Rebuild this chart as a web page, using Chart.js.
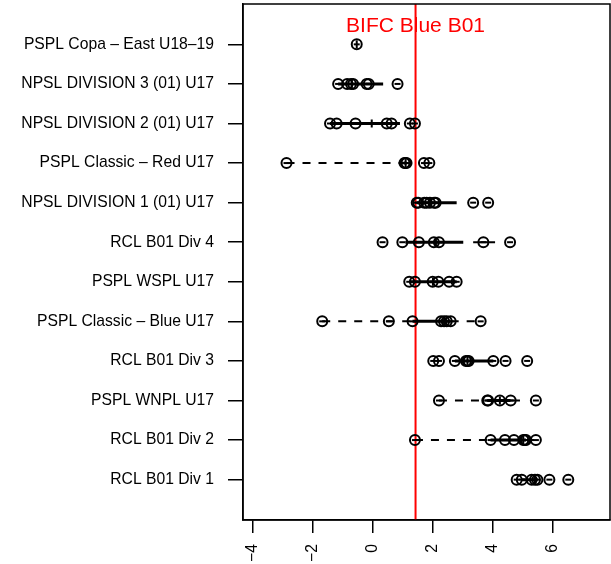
<!DOCTYPE html>
<html>
<head>
<meta charset="utf-8">
<script src="https://cdn.jsdelivr.net/npm/chart.js@4"></script>
<style>
  body { margin: 0; background: #fff; }
  canvas { display: block; }
</style>
</head>
<body>
<canvas id="chart" width="611" height="564"></canvas>
<script>
// Team scores vs. BIFC Blue B01 reference

const categories = [
    'PSPL Copa \u2013 East U18\u201319',
    'NPSL DIVISION 3 (01) U17',
    'NPSL DIVISION 2 (01) U17',
    'PSPL Classic \u2013 Red U17',
    'NPSL DIVISION 1 (01) U17',
    'RCL B01 Div 4',
    'PSPL WSPL U17',
    'PSPL Classic \u2013 Blue U17',
    'RCL B01 Div 3',
    'PSPL WNPL U17',
    'RCL B01 Div 2',
    'RCL B01 Div 1'
];

// individual points per category (top to bottom)
const scores = [
    [-0.54],
    [-1.16, -0.86, -0.73, -0.66, -0.21, -0.14, 0.82],
    [-1.43, -1.21, -0.58, 0.46, 0.62, 1.23, 1.40],
    [-2.88, 1.05, 1.08, 1.12, 1.70, 1.88],
    [1.46, 1.51, 1.71, 1.79, 1.90, 2.04, 2.09, 3.34, 3.84],
    [0.32, 0.98, 1.53, 2.03, 2.20, 3.68, 4.57],
    [1.21, 1.40, 1.99, 2.18, 2.54, 2.79],
    [-1.69, 0.53, 1.32, 2.27, 2.37, 2.46, 2.59, 3.59],
    [2.01, 2.20, 2.73, 3.10, 3.15, 3.19, 4.01, 4.42, 5.14],
    [2.20, 3.81, 3.84, 4.23, 4.59, 5.43],
    [1.40, 3.92, 4.40, 4.70, 5.01, 5.06, 5.10, 5.43],
    [4.79, 4.96, 5.29, 5.40, 5.48, 5.88, 6.51]
];

// box / whisker stats
const boxLow    = [-0.54, -1.16, -1.43, 1.02, 1.46, 1.08, 1.21, 1.32, 2.73, 3.81, 3.92, 4.96];
const boxHigh   = [-0.54, 0.34, 0.90, 1.12, 2.79, 3.01, 2.79, 2.59, 4.01, 4.59, 5.10, 5.48];
const medians   = [-0.54, -0.70, -0.04, 1.09, 1.90, 2.10, 2.00, 2.37, 3.15, 4.23, 5.01, 5.40];
const whiskLow  = [-0.54, -1.16, -1.43, -2.88, 1.46, 1.08, 1.21, -1.69, 2.73, 2.20, 1.40, 4.96];
const whiskHigh = [-0.54, 0.34, 0.90, 1.12, 2.79, 3.01, 2.79, 3.59, 4.01, 4.59, 5.43, 5.48];
// short solid bars next to some points: [row, from, to]
const extraBars = [[5, 3.34, 4.07], [9, 4.59, 4.90]];

const refValue = 1.42;
const refLabel = 'BIFC Blue B01';

const xTicks = [-4, -2, 0, 2, 4, 6];
const xTickLabels = ['\u22124', '\u22122', '0', '2', '4', '6'];
const xMin = -4.33, xMax = 7.9;

const n = categories.length;
const pos = i => n - i;   // top row gets the highest position

// build segment lists (null y breaks the line)
const boxSeg = [];
const whiskSeg = [];
const points = [];
const medPts = [];
categories.forEach((c, i) => {
    const y = pos(i);
    if (boxHigh[i] > boxLow[i]) {
        boxSeg.push({ x: boxLow[i], y: y }, { x: boxHigh[i], y: y }, { x: boxHigh[i], y: null });
    }
    if (whiskLow[i] < boxLow[i]) {
        whiskSeg.push({ x: whiskLow[i], y: y }, { x: boxLow[i], y: y }, { x: boxLow[i], y: null });
    }
    if (whiskHigh[i] > boxHigh[i]) {
        whiskSeg.push({ x: boxHigh[i], y: y }, { x: whiskHigh[i], y: y }, { x: whiskHigh[i], y: null });
    }
    scores[i].forEach(v => points.push({ x: v, y: y }));
    medPts.push({ x: medians[i], y: y });
});
const extraSeg = [];
extraBars.forEach(b => {
    const y = pos(b[0]);
    extraSeg.push({ x: b[1], y: y }, { x: b[2], y: y }, { x: b[2], y: null });
});

const fontFamily = '"Liberation Sans", Arial, sans-serif';
const font = { family: fontFamily, size: 15.7 };

const framePlugin = {
    id: 'frame',
    afterDatasetsDraw(chart) {
        const { ctx, chartArea: a, scales } = chart;
        ctx.save();
        ctx.strokeStyle = '#000';
        ctx.lineWidth = 1.5;
        ctx.strokeRect(a.left, a.top, a.right - a.left, a.bottom - a.top);

        // reference label
        ctx.fillStyle = '#ff0000';
        ctx.font = '21px ' + fontFamily;
        ctx.textAlign = 'center';
        ctx.textBaseline = 'alphabetic';
        ctx.fillText(refLabel, scales.x.getPixelForValue(refValue), 32);

        // x tick labels, perpendicular to the axis
        ctx.fillStyle = '#000';
        ctx.font = font.size + 'px ' + fontFamily;
        ctx.textAlign = 'right';
        ctx.textBaseline = 'middle';
        xTicks.forEach((v, k) => {
            ctx.save();
            ctx.translate(scales.x.getPixelForValue(v), a.bottom + 24);
            ctx.rotate(-Math.PI / 2);
            ctx.fillText(xTickLabels[k], 0, 0);
            ctx.restore();
        });
        ctx.restore();
    }
};

new Chart(document.getElementById('chart'), {
    type: 'scatter',
    data: {
        datasets: [
            {
                data: whiskSeg,
                showLine: true,
                spanGaps: false,
                borderColor: '#000',
                borderWidth: 2,
                borderDash: [8, 8],
                pointRadius: 0
            },
            {
                data: boxSeg,
                showLine: true,
                spanGaps: false,
                borderColor: '#000',
                borderWidth: 3,
                pointRadius: 0
            },
            {
                data: extraSeg,
                showLine: true,
                spanGaps: false,
                borderColor: '#000',
                borderWidth: 2,
                pointRadius: 0
            },
            {
                data: medPts,
                showLine: false,
                pointStyle: 'line',
                rotation: 90,
                pointRadius: 4,
                borderColor: '#000',
                borderWidth: 2
            },
            {
                data: points,
                showLine: false,
                pointStyle: 'circle',
                pointRadius: 5,
                borderColor: '#000',
                borderWidth: 2,
                backgroundColor: 'rgba(0,0,0,0)'
            },
            {
                data: points,
                showLine: false,
                pointStyle: 'line',
                pointRadius: 3,
                borderColor: '#000',
                borderWidth: 2
            },
            {
                data: [{ x: refValue, y: -0.02 }, { x: refValue, y: n + 1.02 }],
                showLine: true,
                borderColor: '#ff0000',
                borderWidth: 2,
                pointRadius: 0
            }
        ]
    },
    options: {
        responsive: false,
        animation: false,
        devicePixelRatio: 1,
        layout: { autoPadding: false, padding: { top: 4, right: 1, left: 0, bottom: 0 } },
        plugins: {
            legend: { display: false },
            tooltip: { enabled: false }
        },
        scales: {
            x: {
                type: 'linear',
                min: xMin,
                max: xMax,
                afterBuildTicks: s => { s.ticks = xTicks.map(v => ({ value: v })); },
                afterFit: s => { s.height = 44; s.paddingLeft = 0; s.paddingRight = 0; },
                grid: { drawOnChartArea: false, tickLength: 13, color: '#000', lineWidth: 1.5 },
                border: { display: true, color: '#000', width: 1.5 },
                ticks: { display: false }
            },
            y: {
                type: 'linear',
                min: -0.02,
                max: n + 1.02,
                afterBuildTicks: s => { s.ticks = categories.map((c, i) => ({ value: pos(i) })); },
                afterFit: s => { s.width = 243; s.paddingTop = 0; s.paddingBottom = 0; },
                grid: { drawOnChartArea: false, tickLength: 15, color: '#000', lineWidth: 1.5 },
                border: { display: true, color: '#000', width: 1.5 },
                ticks: {
                    color: '#000',
                    font: font,
                    padding: 14,
                    callback: v => categories[n - v]
                }
            }
        }
    },
    plugins: [framePlugin]
});
</script>
</body>
</html>
